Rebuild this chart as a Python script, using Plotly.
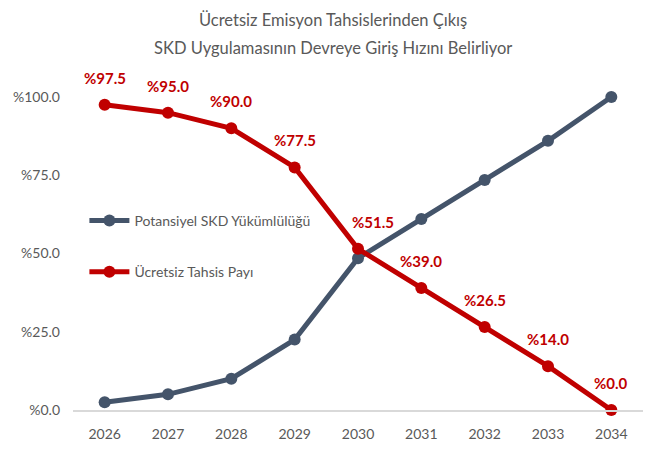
import plotly.graph_objects as go

years = ["2026", "2027", "2028", "2029", "2030", "2031", "2032", "2033", "2034"]
skd = [2.5, 5.0, 10.0, 22.5, 48.5, 61.0, 73.5, 86.0, 100.0]
free_alloc = [97.5, 95.0, 90.0, 77.5, 51.5, 39.0, 26.5, 14.0, 0.0]
label_xshift = [0, 0, 0, 0, 15, 0, 0, 0, 0]
y_ticks = [0, 25, 50, 75, 100]
y_tick_text = ["%0.0", "%25.0", "%50.0", "%75.0", "%100.0"]
title_line1 = "Ücretsiz Emisyon Tahsislerinden Çıkış"
title_line2 = "SKD Uygulamasının Devreye Giriş Hızını Belirliyor"

FONT = "Lato, sans-serif"
BLUE = "#44546A"
RED = "#C00000"
GRAY = "#595959"

fig = go.Figure()
fig.add_trace(go.Scatter(
    x=years, y=skd, mode="lines+markers", name="Potansiyel SKD Yükümlülüğü",
    line=dict(color=BLUE, width=5), marker=dict(size=12, color=BLUE),
    legendgroup="a", cliponaxis=False))
fig.add_trace(go.Scatter(
    x=years, y=free_alloc, mode="lines+markers", name="Ücretsiz Tahsis Payı",
    line=dict(color=RED, width=5), marker=dict(size=12, color=RED),
    legendgroup="b", cliponaxis=False))

for i, (v, dx) in enumerate(zip(free_alloc, label_xshift)):
    fig.add_annotation(x=i, y=v, xref="x", yref="y", text=f"<b>%{v:.1f}</b>",
                       showarrow=False, yshift=27, xshift=dx,
                       font=dict(family=FONT, size=15, color=RED))

fig.add_annotation(text=title_line1, xref="paper", yref="paper", x=0.456, y=1.245,
                   xanchor="center", yanchor="middle", showarrow=False,
                   font=dict(family=FONT, size=16.5, color=GRAY))
fig.add_annotation(text=title_line2, xref="paper", yref="paper", x=0.456, y=1.155,
                   xanchor="center", yanchor="middle", showarrow=False,
                   font=dict(family=FONT, size=16.5, color=GRAY))

fig.update_layout(
    width=650, height=449,
    margin=dict(l=73, r=7, t=97, b=33),
    paper_bgcolor="white", plot_bgcolor="white",
    legend=dict(x=0.02, y=0.655, xanchor="left", yanchor="top",
                bgcolor="rgba(0,0,0,0)", font=dict(family=FONT, size=14, color=GRAY),
                tracegroupgap=30, itemwidth=40),
    xaxis=dict(type="category", range=[-0.5, 8.5], showgrid=False,
               showline=True, linecolor="#D9D9D9", linewidth=2,
               ticks="", ticklabelstandoff=10,
               tickfont=dict(family=FONT, size=14, color=GRAY)),
    yaxis=dict(range=[0, 100], tickvals=y_ticks, ticktext=y_tick_text,
               showgrid=False, zeroline=False, showline=False, ticks="",
               ticklabelstandoff=12,
               tickfont=dict(family=FONT, size=14, color=GRAY)),
    font=dict(family=FONT),
)

fig.write_html("out.html", config={"displayModeBar": False},
               post_script="document.body.style.margin='0';")
